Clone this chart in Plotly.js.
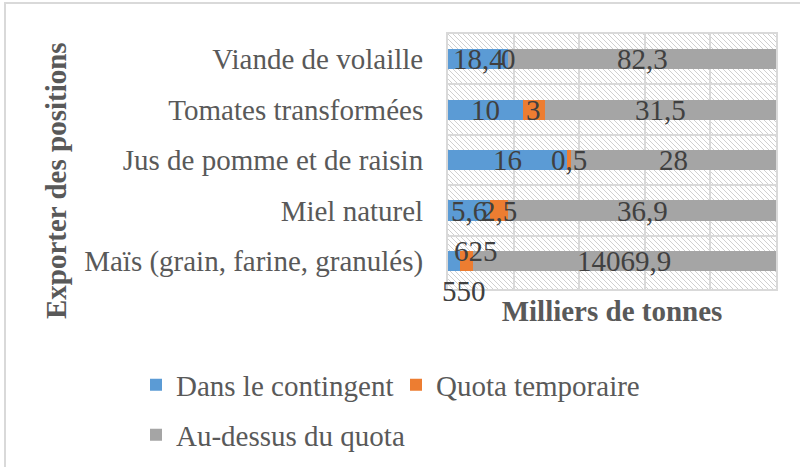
<!DOCTYPE html>
<html>
<head>
<meta charset="utf-8">
<script src="https://cdn.plot.ly/plotly-3.0.1.min.js"></script>
<style>html,body{margin:0;padding:0;background:#fff;}#chart{width:800px;height:467px;}</style>
</head>
<body>
<div id="chart"></div>
<script>
// Categories (top to bottom as displayed)
const categories = ['Viande de volaille', 'Tomates transformées', 'Jus de pomme et de raisin', 'Miel naturel', 'Maïs (grain, farine, granulés)'];
// Series names
const seriesNames = ['Dans le contingent', 'Quota temporaire', 'Au-dessus du quota'];
// Bar lengths as drawn (thousand tonnes, axis scale)
const inQuota = [8.1, 10, 16, 5.6, 1.6];
const tempQuota = [0, 3, 0.5, 2.5, 1.75];
const aboveQuota = [82.3, 31.5, 28, 36.9, 14069.9];
// Data labels as printed
const inQuotaLabels = ['18,4', '10', '16', '5,6', '550'];
const tempQuotaLabels = ['0', '3', '0,5', '2,5', '625'];
const aboveQuotaLabels = ['82,3', '31,5', '28', '36,9', '14069,9'];

const XMAX = 44;
const FONT = 'Liberation Serif, Times New Roman, serif';
const FS = 29;
const colors = ['#5B9BD5', '#ED7D31', '#A5A5A5'];
const W = 800, H = 467;
const M = {l: 448, r: 24, t: 34, b: 178};
const PW = W - M.l - M.r, PH = H - M.t - M.b;
const px2x = p => (p - M.l) / PW;
const py2y = p => 1 - (p - M.t) / PH;

const seriesVals = [inQuota, tempQuota, aboveQuota];
const seriesLabels = [inQuotaLabels, tempQuotaLabels, aboveQuotaLabels];
const legendIds = ['legend', 'legend2', 'legend3'];

const traces = seriesVals.map((vals, s) => ({
  type: 'bar', orientation: 'h', name: seriesNames[s],
  y: categories, x: vals,
  marker: {color: colors[s]},
  textposition: 'none', hoverinfo: 'x+name',
  legend: legendIds[s]
}));

// manual label offsets (px: [dx, dy down]) for the crowded Maïs row
const labelShift = {0: {4: [10, 30]}, 1: {4: [10, -10]}};

const annotations = [];
categories.forEach((c, i) => {
  let start = 0;
  seriesVals.forEach((vals, s) => {
    const end = start + vals[i];
    const visEnd = Math.min(end, XMAX);
    const center = (start + visEnd) / 2;
    const sh = (labelShift[s] && labelShift[s][i]) || [0, 0];
    annotations.push({
      x: center, y: c, xref: 'x', yref: 'y',
      text: seriesLabels[s][i], showarrow: false,
      xanchor: 'center', yanchor: 'middle',
      xshift: sh[0], yshift: -sh[1],
      font: {family: FONT, size: FS, color: '#404040'}
    });
    start = end;
  });
});

annotations.push({
  xref: 'paper', yref: 'paper', x: px2x(56), y: py2y(181),
  text: '<b>Exporter des positions</b>', textangle: -90, showarrow: false,
  xanchor: 'center', yanchor: 'middle',
  font: {family: FONT, size: FS, color: '#595959'}
});

const hatch = '<svg xmlns="http://www.w3.org/2000/svg" width="' + PW + '" height="' + PH + '" viewBox="0 0 ' + PW + ' ' + PH + '" preserveAspectRatio="none">' +
  '<defs><pattern id="h" patternUnits="userSpaceOnUse" width="5" height="5">' +
  '<path d="M-1,-1 L6,6 M-1,4 L1,6 M4,-1 L6,1" stroke="#d0d0d0" stroke-width="1"/></pattern></defs>' +
  '<rect width="100%" height="100%" fill="#ffffff"/><rect width="100%" height="100%" fill="url(#h)"/></svg>';

function legendAt(xpx, ypx) {
  return {
    orientation: 'h', xref: 'container', yref: 'container',
    x: xpx / W, y: 1 - ypx / H, xanchor: 'left', yanchor: 'middle',
    traceorder: 'normal',
    font: {family: FONT, size: FS, color: '#595959'}, bgcolor: 'rgba(0,0,0,0)'
  };
}

const layout = {
  width: W, height: H,
  margin: M,
  paper_bgcolor: '#ffffff', plot_bgcolor: '#ffffff',
  barmode: 'stack', bargap: 0.6,
  font: {family: FONT, size: FS, color: '#595959'},
  xaxis: {
    range: [0, XMAX], tick0: 0, dtick: XMAX / 5,
    showticklabels: false, ticks: '', zeroline: false,
    showgrid: true, gridcolor: '#d9d9d9', gridwidth: 2,
    showline: true, mirror: true, linecolor: '#d9d9d9', linewidth: 2,
    title: {text: '<b>Milliers de tonnes</b>', standoff: 11, font: {family: FONT, size: FS, color: '#595959'}},
    fixedrange: true
  },
  yaxis: {
    type: 'category', autorange: 'reversed', tickson: 'boundaries',
    ticks: '', ticklabelstandoff: 17,
    showgrid: true, gridcolor: '#d9d9d9', gridwidth: 2,
    showline: true, mirror: true, linecolor: '#d9d9d9', linewidth: 2,
    tickfont: {family: FONT, size: FS, color: '#595959'},
    fixedrange: true
  },
  images: [{
    source: 'data:image/svg+xml;charset=utf-8,' + encodeURIComponent(hatch),
    xref: 'paper', yref: 'paper', x: 0, y: 1, sizex: 1, sizey: 1,
    xanchor: 'left', yanchor: 'top', sizing: 'stretch', layer: 'below'
  }],
  legend: legendAt(136, 385),
  legend2: legendAt(396, 385),
  legend3: legendAt(136, 435),
  showlegend: true,
  annotations: annotations,
  shapes: [{
    type: 'rect', xref: 'paper', yref: 'paper',
    x0: px2x(5), x1: px2x(820), y0: py2y(3), y1: py2y(490),
    line: {color: '#d9d9d9', width: 2}, fillcolor: 'rgba(0,0,0,0)', layer: 'below'
  }]
};

Plotly.newPlot('chart', traces, layout, {displayModeBar: false, staticPlot: true});
</script>
</body>
</html>
